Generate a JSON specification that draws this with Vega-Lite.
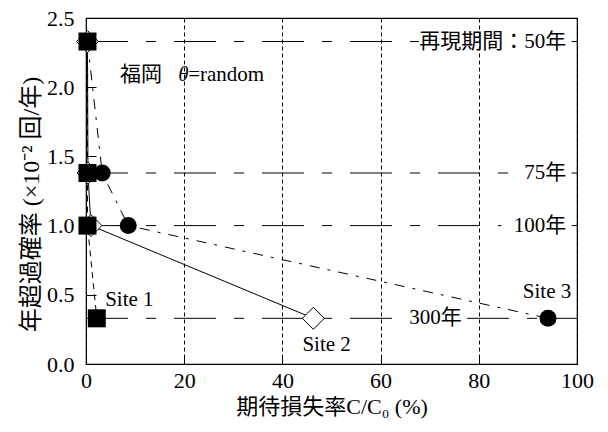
{
  "$schema": "https://vega.github.io/schema/vega-lite/v6.json",
  "width": 491,
  "height": 346,
  "autosize": "none",
  "padding": {"left": 86, "top": 18, "right": 31, "bottom": 68},
  "background": "white",
  "config": {
    "view": {"stroke": "black", "strokeWidth": 1.2},
    "font": "Liberation Serif, Noto Sans CJK JP",
    "axis": {"labelFont": "Liberation Serif", "titleFont": "Liberation Serif, Noto Sans CJK JP"},
    "text": {"font": "Liberation Serif, Noto Sans CJK JP", "color": "black"}
  },
  "datasets": {
    "ref": [
      {"y": 2.33, "x0": 0, "x1": 67.8},
      {"y": 2.33, "x0": 98.9, "x1": 100},
      {"y": 1.38, "x0": 0, "x1": 88.4},
      {"y": 1.38, "x0": 98.9, "x1": 100},
      {"y": 1.0, "x0": 0, "x1": 84.6},
      {"y": 1.0, "x0": 98.9, "x1": 100},
      {"y": 0.33, "x0": 0, "x1": 65.0},
      {"y": 0.33, "x0": 77.6, "x1": 100}
    ],
    "pts": [
      {"site": "Site 1", "x": 0.3, "y": 2.33},
      {"site": "Site 1", "x": 0.3, "y": 1.38},
      {"site": "Site 1", "x": 0.3, "y": 1.0},
      {"site": "Site 1", "x": 2.2, "y": 0.33},
      {"site": "Site 2", "x": 0.3, "y": 2.33},
      {"site": "Site 2", "x": 0.4, "y": 1.38},
      {"site": "Site 2", "x": 1.0, "y": 1.0},
      {"site": "Site 2", "x": 46.3, "y": 0.33},
      {"site": "Site 3", "x": 0.3, "y": 2.33},
      {"site": "Site 3", "x": 3.3, "y": 1.38},
      {"site": "Site 3", "x": 8.6, "y": 1.0},
      {"site": "Site 3", "x": 94.1, "y": 0.33}
    ]
  },
  "layer": [
    {
      "data": {"name": "ref"},
      "mark": {"type": "rule", "color": "black", "strokeWidth": 1, "strokeDash": [42, 18, 10, 18]},
      "encoding": {
        "x": {
          "field": "x0", "type": "quantitative",
          "scale": {"domain": [0, 100], "nice": false},
          "axis": {
            "values": [0, 20, 40, 60, 80, 100],
            "grid": true, "gridDash": [4, 3], "gridColor": "black", "gridWidth": 1, "gridOpacity": 1,
            "domain": false,
            "tickSize": -8, "tickColor": "black", "tickWidth": 1,
            "labelPadding": 14, "labelFlush": false,
            "labelFont": "Liberation Serif", "labelFontSize": 22, "labelColor": "black",
            "title": "期待損失率C/C₀ (%)",
            "titleFontSize": 22, "titleFontWeight": "normal", "titleColor": "black",
            "titlePadding": 5
          }
        },
        "x2": {"field": "x1"},
        "y": {
          "field": "y", "type": "quantitative",
          "scale": {"domain": [0, 2.5], "nice": false},
          "axis": {
            "values": [0, 0.5, 1.0, 1.5, 2.0, 2.5],
            "format": ".1f",
            "grid": false,
            "domain": false,
            "tickSize": -10, "tickColor": "black", "tickWidth": 1,
            "labelPadding": 22, "labelFlush": false,
            "labelFont": "Liberation Serif", "labelFontSize": 22, "labelColor": "black",
            "title": "年超過確率  (×10⁻² 回/年)",
            "titleFontSize": 24, "titleFontWeight": "normal", "titleColor": "black",
            "titlePadding": 3, "titleY": 186
          }
        }
      }
    },
    {
      "data": {"name": "pts"},
      "transform": [{"filter": "datum.site === 'Site 1'"}],
      "mark": {"type": "line", "color": "black", "strokeWidth": 1, "strokeDash": [6, 5]},
      "encoding": {
        "x": {"field": "x", "type": "quantitative"},
        "y": {"field": "y", "type": "quantitative"},
        "order": {"field": "y", "sort": "descending"}
      }
    },
    {
      "data": {"name": "pts"},
      "transform": [{"filter": "datum.site === 'Site 2'"}],
      "mark": {"type": "line", "color": "black", "strokeWidth": 1},
      "encoding": {
        "x": {"field": "x", "type": "quantitative"},
        "y": {"field": "y", "type": "quantitative"},
        "order": {"field": "y", "sort": "descending"}
      }
    },
    {
      "data": {"name": "pts"},
      "transform": [{"filter": "datum.site === 'Site 3'"}],
      "mark": {"type": "line", "color": "black", "strokeWidth": 1, "strokeDash": [10, 8, 3, 8]},
      "encoding": {
        "x": {"field": "x", "type": "quantitative"},
        "y": {"field": "y", "type": "quantitative"},
        "order": {"field": "y", "sort": "descending"}
      }
    },
    {
      "data": {"name": "pts"},
      "transform": [{"filter": "datum.site === 'Site 2'"}],
      "mark": {"type": "point", "shape": "diamond", "filled": true, "fill": "white", "stroke": "black", "strokeWidth": 1, "size": 484, "opacity": 1},
      "encoding": {
        "x": {"field": "x", "type": "quantitative"},
        "y": {"field": "y", "type": "quantitative"}
      }
    },
    {
      "data": {"name": "pts"},
      "transform": [{"filter": "datum.site === 'Site 3'"}],
      "mark": {"type": "point", "shape": "circle", "filled": true, "color": "black", "size": 290, "opacity": 1},
      "encoding": {
        "x": {"field": "x", "type": "quantitative"},
        "y": {"field": "y", "type": "quantitative"}
      }
    },
    {
      "data": {"name": "pts"},
      "transform": [{"filter": "datum.site === 'Site 1'"}],
      "mark": {"type": "point", "shape": "square", "filled": true, "color": "black", "size": 324, "opacity": 1},
      "encoding": {
        "x": {"field": "x", "type": "quantitative"},
        "y": {"field": "y", "type": "quantitative"}
      }
    },
    {
      "data": {"values": [
        {"label": "再現期間：50年", "x": 97.8, "y": 2.33},
        {"label": "75年", "x": 97.8, "y": 1.38},
        {"label": "100年", "x": 97.8, "y": 1.0}
      ]},
      "mark": {"type": "text", "align": "right", "baseline": "middle", "fontSize": 21},
      "encoding": {
        "x": {"field": "x", "type": "quantitative"},
        "y": {"field": "y", "type": "quantitative"},
        "text": {"field": "label"}
      }
    },
    {
      "data": {"values": [
        {"label": "300年", "x": 71.2, "y": 0.33},
        {"label": "Site 2", "x": 49.0, "y": 0.137},
        {"label": "Site 3", "x": 93.9, "y": 0.52}
      ]},
      "mark": {"type": "text", "align": "center", "baseline": "middle", "fontSize": 21},
      "encoding": {
        "x": {"field": "x", "type": "quantitative"},
        "y": {"field": "y", "type": "quantitative"},
        "text": {"field": "label"}
      }
    },
    {
      "data": {"values": [
        {"label": "福岡", "x": 6.9, "y": 2.09},
        {"label": "=random", "x": 20.8, "y": 2.09},
        {"label": "Site 1", "x": 3.9, "y": 0.46}
      ]},
      "mark": {"type": "text", "align": "left", "baseline": "middle", "fontSize": 21},
      "encoding": {
        "x": {"field": "x", "type": "quantitative"},
        "y": {"field": "y", "type": "quantitative"},
        "text": {"field": "label"}
      }
    },
    {
      "data": {"values": [
        {"label": "θ", "x": 18.8, "y": 2.09}
      ]},
      "mark": {"type": "text", "align": "left", "baseline": "middle", "fontSize": 21, "fontStyle": "italic"},
      "encoding": {
        "x": {"field": "x", "type": "quantitative"},
        "y": {"field": "y", "type": "quantitative"},
        "text": {"field": "label"}
      }
    }
  ]
}
